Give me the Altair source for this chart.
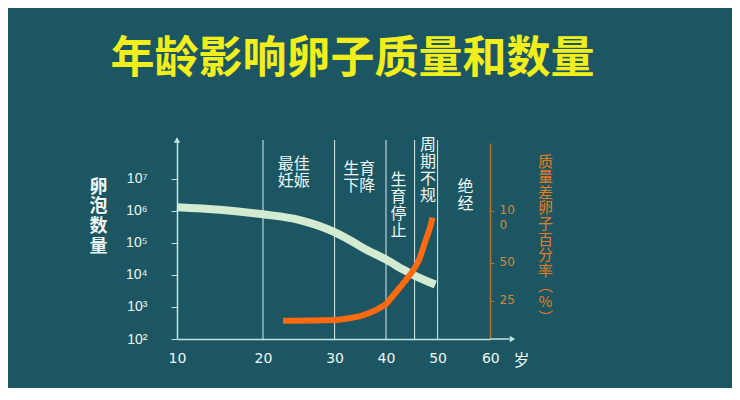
import altair as alt
import pandas as pd

# ---------------- data ----------------
ages_follicle = [10, 15, 20, 25, 30, 33, 36, 40, 43, 45, 49.5]
follicle_count = [1.29e6, 1.07e6, 7.7e5, 5.2e5, 2.15e5, 1.2e5, 6.3e4, 3.0e4, 1.46e4, 9.5e3, 5.0e3]

ages_poor = [22.8, 30, 33.05, 35, 36.95, 38.9, 40, 40.75, 42.2, 43.7, 44.8, 46.1, 47.3, 48.4, 48.9]
poor_pct = [12.0, 12.5, 13.8, 15.1, 17.4, 20.7, 23.0, 26.3, 32.9, 39.9, 45.4, 54.5, 70.5, 84.9, 93.6]

stage_bounds = [20, 30, 40, 45, 50]
stage_labels = [["最佳", "妊娠"], ["生育", "下降"], ["生", "育", "停", "止"],
                ["周", "期", "不", "规"], ["绝", "经"]]
stage_label_age = [24.3, 34.8, 42.2, 47.9, 55.3]
stage_label_level = [5.0e7, 3.5e7, 1.6e7, 1.95e8, 9.6e6]

x_ticks = [10, 20, 30, 40, 50, 60]
y_ticks = [1e2, 1e3, 1e4, 1e5, 1e6, 1e7]
pct_ticks = [25, 50, 100]

title_text = "年龄影响卵子质量和数量"
left_title = ["卵", "泡", "数", "量"]
right_title = ["质", "量", "差", "卵", "子", "百", "分", "率", "︵", "%", "︶"]

# ---------------- styles ----------------
BG = "#1c5663"
AXIS = "#bfe6e3"
WHITE = "#eef6f5"
ORANGE_AX = "#b8702e"
ORANGE_TXT = "#e97a22"
CJK = "Noto Sans CJK SC"

Y_TOP = 1.6e8
Y_BOTTOM = 100
X_ARROW = 64.2

x_scale = alt.Scale(domain=[10, 20, 30, 40, 45, 50, 60],
                    range=[0, 86, 157.6, 209, 237.6, 260.6, 313.3])
y_left = alt.Scale(type="log", domain=[Y_BOTTOM, Y_TOP])
y_right = alt.Scale(domain=[0, 25, 50, 100, 165], range=[199, 161, 123, 71, 3])

df_g = pd.DataFrame({"age": ages_follicle, "level": follicle_count})
df_o = pd.DataFrame({"age": ages_poor, "pct": poor_pct})
df_b = pd.DataFrame({"age": stage_bounds})
df_l = pd.DataFrame({"age": stage_label_age, "level": stage_label_level,
                     "label": stage_labels})
df_ay = pd.DataFrame({"age": [10], "level": [Y_TOP]})
df_ax = pd.DataFrame({"age": [X_ARROW], "level": [Y_BOTTOM]})
df_ext = pd.DataFrame({"age": [60], "age2": [X_ARROW - 0.6], "level": [Y_BOTTOM]})

x_axis = alt.Axis(values=x_ticks, title="岁", titleX=344, titleY=21,
                  titleAlign="center", titleBaseline="middle", titleFontSize=16,
                  titleColor=WHITE, titleFont=CJK, titleFontWeight="normal",
                  labelFont="DejaVu Sans", labelFontSize=14, labelColor=WHITE,
                  labelPadding=12, ticks=False, domainColor=AXIS, domainWidth=1.5,
                  grid=False, labelFlush=False)

y_axis_left = alt.Axis(values=y_ticks,
                       labelExpr="'10' + ['⁰','¹','²','³','⁴','⁵','⁶','⁷','⁸'][round(log(datum.value)/LN10)]",
                       title=left_title, titleAngle=0, titleX=-79, titleY=38,
                       titleAlign="center", titleBaseline="top", titleFontSize=18,
                       titleLineHeight=19.8, titleColor=WHITE, titleFont=CJK,
                       titleFontWeight="bold",
                       labelFont="Liberation Sans", labelFontSize=14, labelColor=WHITE,
                       labelPadding=24, tickSize=6, tickColor=AXIS, domainColor=AXIS,
                       domainWidth=1.5, grid=False)

y_axis_right = alt.Axis(orient="right", values=pct_ticks,
                        labelExpr="datum.value == 100 ? ['10', '0'] : datum.label",
                        labelBaseline="top", labelOffset=-7, labelLineHeight=15,
                        labelFont="DejaVu Sans", labelFontSize=12, labelColor="#d9853a",
                        labelPadding=5, tickSize=4, tickColor=ORANGE_AX,
                        domainColor=ORANGE_AX, domainWidth=1.5, grid=False,
                        title=right_title, titleAngle=0, titleX=55, titleY=14,
                        titleAlign="center", titleBaseline="top", titleFontSize=15,
                        titleLineHeight=15.6, titleColor=ORANGE_TXT, titleFont=CJK,
                        titleFontWeight="normal")

X = alt.X("age:Q", scale=x_scale, axis=x_axis)
Y = alt.Y("level:Q", scale=y_left, axis=y_axis_left)

bounds = alt.Chart(df_b).mark_rule(color="#d8eeee", strokeWidth=1).encode(x=X)

green = alt.Chart(df_g).mark_line(color="#d3ecd1", strokeWidth=8,
                                  interpolate="monotone").encode(x=X, y=Y)

labels = alt.Chart(df_l).mark_text(align="center", baseline="top", fontSize=16,
                                   lineHeight=17, font=CJK, color=WHITE).encode(
    x=X, y=Y, text="label")

arrow_y = alt.Chart(df_ay).mark_point(shape="triangle-up", filled=True, size=40,
                                      color=AXIS, opacity=1).encode(x=X, y=Y)

ext = alt.Chart(df_ext).mark_rule(color=AXIS, strokeWidth=1.5).encode(
    x=X, x2="age2", y=Y)

arrow_x = alt.Chart(df_ax).mark_point(shape="triangle-right", filled=True, size=40,
                                      color=AXIS, opacity=1).encode(x=X, y=Y)

left_group = alt.layer(bounds, green, labels, ext, arrow_y, arrow_x)

orange = alt.Chart(df_o).mark_line(color="#ff6a10", strokeWidth=6,
                                   interpolate="monotone").encode(
    x=X, y=alt.Y("pct:Q", scale=y_right, axis=y_axis_right))

chart = alt.layer(left_group, orange).resolve_scale(y="independent").properties(
    width=313, height=199,
    title=alt.Title(title_text, fontSize=44, color="#f2ee1c", font=CJK,
                    fontWeight="bold", anchor="middle", dx=19, offset=11,
                    baseline="bottom"),
    autosize=alt.AutoSizeParams(type="none"),
    padding={"left": 169, "top": 132, "right": 242, "bottom": 49},
    background=BG,
).configure_view(stroke=None)

chart.save("out.html", embed_options={"renderer": "svg", "actions": False})
